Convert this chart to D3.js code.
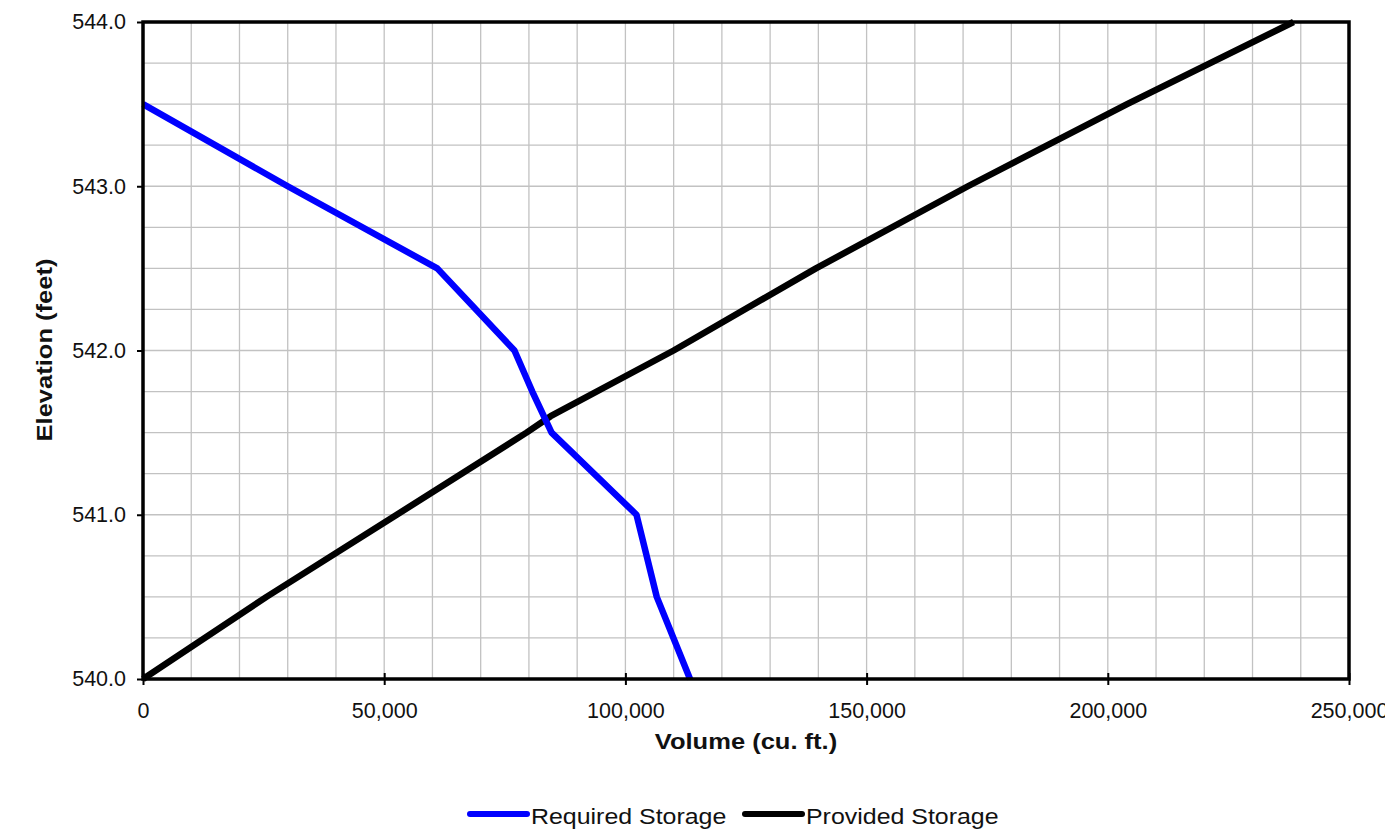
<!DOCTYPE html>
<html>
<head>
<meta charset="utf-8">
<script src="https://cdn.jsdelivr.net/npm/d3@7"></script>
<style>
  body { margin: 0; background: #fff; }
  text { font-family: "Liberation Sans", Arial, sans-serif; fill: #111; }
</style>
</head>
<body>
<div class="chart"></div>
<script>
// stage / storage values
var requiredElev = [540.0, 540.5, 541.0, 541.5, 541.75, 542.0, 542.5, 543.0, 543.5];
var requiredVol  = [113400, 106500, 102300, 84700, 80700, 77000, 61000, 30000, 0];

var providedElev = [540.0, 540.5, 541.0, 541.5, 541.6, 542.0, 542.5, 543.0, 543.5, 544.0];
var providedVol  = [0, 25600, 52600, 79500, 84500, 110000, 139500, 171000, 204000, 238500];

var xTicks = [0, 50000, 100000, 150000, 200000, 250000];
var yTicks = [540, 541, 542, 543, 544];

var seriesNames = ["Required Storage", "Provided Storage"];
var seriesColors = ["#0000ff", "#000000"];

var svgWidth = 1385;
var svgHeight = 839;
var margin = { top: 22, right: 36, bottom: 160, left: 143 };
var width = svgWidth - margin.left - margin.right;
var height = svgHeight - margin.top - margin.bottom;

var svg = d3.select(".chart")
  .append("svg")
  .attr("width", svgWidth)
  .attr("height", svgHeight);

var chart = svg.append("g")
  .attr("transform", "translate(" + margin.left + "," + margin.top + ")");

var x = d3.scaleLinear().domain([0, 250000]).range([0, width]);
var y = d3.scaleLinear().domain([540, 544]).range([height, 0]);

// grid lines
chart.append("g")
  .selectAll("line")
  .data(d3.range(10000, 250000, 10000))
  .enter().append("line")
    .attr("x1", function(d) { return x(d); })
    .attr("x2", function(d) { return x(d); })
    .attr("y1", 0)
    .attr("y2", height)
    .attr("stroke", "#c2c2c2")
    .attr("stroke-width", 1.3);

chart.append("g")
  .selectAll("line")
  .data(d3.range(540.25, 544, 0.25))
  .enter().append("line")
    .attr("x1", 0)
    .attr("x2", width)
    .attr("y1", function(d) { return y(d); })
    .attr("y2", function(d) { return y(d); })
    .attr("stroke", "#c2c2c2")
    .attr("stroke-width", 1.3);

// axes
var xAxis = chart.append("g")
  .attr("transform", "translate(0," + height + ")")
  .call(d3.axisBottom(x).tickValues(xTicks).tickFormat(d3.format(",")).tickSize(6).tickPadding(18));

xAxis.selectAll(".tick line").attr("y1", -6).attr("stroke", "#000").attr("stroke-width", 2);

var yAxis = chart.append("g")
  .call(d3.axisLeft(y).tickValues(yTicks).tickFormat(d3.format(".1f")).tickSize(6).tickPadding(11));

yAxis.selectAll(".tick line").attr("stroke", "#000").attr("stroke-width", 2);

[xAxis, yAxis].forEach(function(a) {
  a.select(".domain").remove();
  a.selectAll("text")
    .style("font-family", "'Liberation Sans', Arial, sans-serif")
    .style("font-size", "21.5px")
    .attr("fill", "#222");
});

// lines
var line = d3.line()
  .x(function(d) { return x(d[0]); })
  .y(function(d) { return y(d[1]); });

var provided = d3.zip(providedVol, providedElev);
var required = d3.zip(requiredVol, requiredElev);

chart.append("path")
  .attr("d", line(provided))
  .attr("fill", "none")
  .attr("stroke", seriesColors[1])
  .attr("stroke-width", 6.5)
  .attr("stroke-linejoin", "round");

chart.append("path")
  .attr("d", line(required))
  .attr("fill", "none")
  .attr("stroke", seriesColors[0])
  .attr("stroke-width", 6.5)
  .attr("stroke-linejoin", "round");

// plot border
chart.append("rect")
  .attr("width", width)
  .attr("height", height)
  .attr("fill", "none")
  .attr("stroke", "#000")
  .attr("stroke-width", 3.5);

// the picture's text runs a bit wider than Arial, so stretch it
function label(parent, tx, ty, rot, str, size, weight, anchor) {
  return parent.append("text")
    .attr("transform", "translate(" + tx + "," + ty + ") rotate(" + rot + ") scale(1.16,1)")
    .attr("text-anchor", anchor)
    .style("font-size", size + "px")
    .style("font-weight", weight)
    .text(str);
}

label(svg, 746, 749, 0, "Volume (cu. ft.)", 22, "bold", "middle");
label(svg, 52, 350, -90, "Elevation (feet)", 22, "bold", "middle");

// legend
var legend = svg.append("g");
var legendX = [470, 745];
seriesNames.forEach(function(name, i) {
  legend.append("line")
    .attr("x1", legendX[i])
    .attr("x2", legendX[i] + 57)
    .attr("y1", 814)
    .attr("y2", 814)
    .attr("stroke", seriesColors[i])
    .attr("stroke-width", 6)
    .attr("stroke-linecap", "round");
  label(legend, legendX[i] + 61, 824, 0, name, 21.5, "normal", "start");
});
</script>
</body>
</html>
